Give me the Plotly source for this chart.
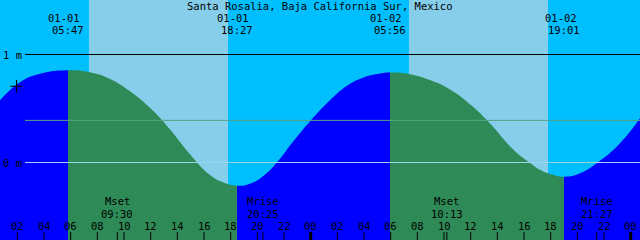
import plotly.graph_objects as go

station = "Santa Rosalia, Baja California Sur, Mexico"

# tide curve: hours since 01-01 00:00, height in metres
tide_hours = [0.700, 2.200, 3.700, 5.950, 7.450, 8.950, 10.450, 11.950, 13.450,
              14.950, 16.450, 17.425, 18.475, 19.450, 20.425, 21.475, 22.675,
              24.025, 25.450, 26.725, 27.925, 29.200, 30.025, 31.450, 32.950,
              34.450, 35.950, 37.225, 37.975, 38.725, 39.475, 40.375, 41.200,
              41.950, 43.075, 44.200, 45.550, 47.200, 48.700]
tide_m = [0.577, 0.744, 0.822, 0.855, 0.836, 0.774, 0.660, 0.506, 0.306,
          0.077, -0.116, -0.184, -0.215, -0.196, -0.127, 0.003, 0.193,
          0.392, 0.577, 0.711, 0.785, 0.824, 0.834, 0.818, 0.764,
          0.677, 0.540, 0.392, 0.290, 0.181, 0.089, 0.003, -0.068,
          -0.106, -0.131, -0.099, 0.003, 0.179, 0.410]

# sunrise / sunset
sun_hours = [5.783, 18.450, 29.933, 43.017]
sun_dates = ["01-01", "01-01", "01-02", "01-02"]
sun_times = ["05:47", "18:27", "05:56", "19:01"]

# moon set / rise
moon_hours = [9.500, 20.417, 34.217, 45.450]
moon_names = ["Mset", "Mrise", "Mset", "Mrise"]
moon_times = ["09:30", "20:25", "10:13", "21:27"]

# light sky bands
sky_light_start = [7.37, 31.37]
sky_light_end = [17.80, 41.80]

# hour ticks
tick_hours = [2, 4, 6, 8, 10, 12, 14, 16, 18, 20, 22, 24,
              26, 28, 30, 32, 34, 36, 38, 40, 42, 44, 46, 48]
tick_labels = ["02", "04", "06", "08", "10", "12", "14", "16", "18", "20", "22", "00",
               "02", "04", "06", "08", "10", "12", "14", "16", "18", "20", "22", "00"]
midnight_hours = [24, 48]

# reference levels
level_values = [1.0, 0.39, 0.0]
level_labels = ["1 m", "", "0 m"]
level_colors = ["#000000", "#57A283", "#98D4EA"]

# current time mark
now_hour = 1.94
now_m = 0.706

X0, X1 = 0.70, 48.70
Y1 = 1.5046
Y0 = Y1 - 240 / 108.0

NIGHT = "#0000FF"
DAY = "#2E8B57"
FONT = dict(family="DejaVu Sans Mono", size=10.5, color="black")


def frac(h):
    return (h - X0) / (X1 - X0)


cs = [[0, NIGHT]]
for i, h in enumerate(sun_hours):
    before = NIGHT if i % 2 == 0 else DAY
    after = DAY if i % 2 == 0 else NIGHT
    cs.append([frac(h), before])
    cs.append([frac(h), after])
cs.append([1, NIGHT])

fig = go.Figure()
fig.add_trace(go.Scatter(x=[tide_hours[0], tide_hours[-1]], y=[Y0 - 1, Y0 - 1],
                         mode="lines", line=dict(width=0), hoverinfo="skip"))
fig.add_trace(go.Scatter(x=tide_hours, y=tide_m, mode="lines",
                         line=dict(width=0, shape="spline", smoothing=1.3),
                         fill="tonexty",
                         fillgradient=dict(type="horizontal", colorscale=cs,
                                           start=X0, stop=X1),
                         hoverinfo="skip"))
fig.add_trace(go.Scatter(x=[now_hour], y=[now_m], mode="markers",
                         marker=dict(symbol="cross-thin", size=9,
                                     line=dict(color="black", width=1.2)),
                         hoverinfo="skip"))

shapes = []
for a, b in zip(sky_light_start, sky_light_end):
    shapes.append(dict(type="rect", xref="x", yref="paper", x0=a, x1=b, y0=0, y1=1,
                       fillcolor="#87CEEB", line=dict(width=0), layer="below"))
for v, c in zip(level_values, level_colors):
    shapes.append(dict(type="line", xref="paper", yref="y", x0=25 / 640, x1=1,
                       y0=v, y1=v, line=dict(color=c, width=1), layer="above"))
for h in tick_hours:
    w = 3 if h in midnight_hours else 1
    shapes.append(dict(type="line", xref="x", yref="paper", x0=h, x1=h,
                       y0=0, y1=8 / 240, line=dict(color="black", width=w),
                       layer="above"))
for h in moon_hours:
    shapes.append(dict(type="line", xref="x", yref="paper", x0=h, x1=h,
                       y0=0, y1=8 / 240, line=dict(color="black", width=1),
                       layer="above"))


def py(pix):
    return 1 - pix / 240.0


def label(text, xref, x, ypix, xshift=0, xanchor="center"):
    return dict(text=text, xref=xref, yref="paper", x=x, y=py(ypix), xshift=xshift,
                showarrow=False, font=FONT, xanchor=xanchor, yanchor="middle",
                borderpad=0)


ann = [label(station, "paper", 0.5, 5.5)]
for h, d, t in zip(sun_hours, sun_dates, sun_times):
    ann.append(label(d, "x", h, 17.75, xshift=-3.5))
    ann.append(label(t, "x", h, 30.0))
for h, n, t in zip(moon_hours, moon_names, moon_times):
    ann.append(label(n, "x", h, 201.0))
    ann.append(label(t, "x", h, 213.5))
for h, lab in zip(tick_hours, tick_labels):
    ann.append(label(lab, "x", h, 226.0))
for v, lab in zip(level_values, level_labels):
    if lab:
        ann.append(dict(text=lab, xref="paper", yref="y", x=0, y=v, xshift=2,
                        showarrow=False, font=FONT, xanchor="left",
                        yanchor="middle", borderpad=0))

fig.update_layout(
    width=640, height=240, margin=dict(l=0, r=0, t=0, b=0),
    paper_bgcolor="#00BFFF", plot_bgcolor="#00BFFF",
    showlegend=False, shapes=shapes, annotations=ann,
    xaxis=dict(range=[X0, X1], visible=False, fixedrange=True),
    yaxis=dict(range=[Y0, Y1], visible=False, fixedrange=True),
)

fig.write_html("out.html", config={"displayModeBar": False})
